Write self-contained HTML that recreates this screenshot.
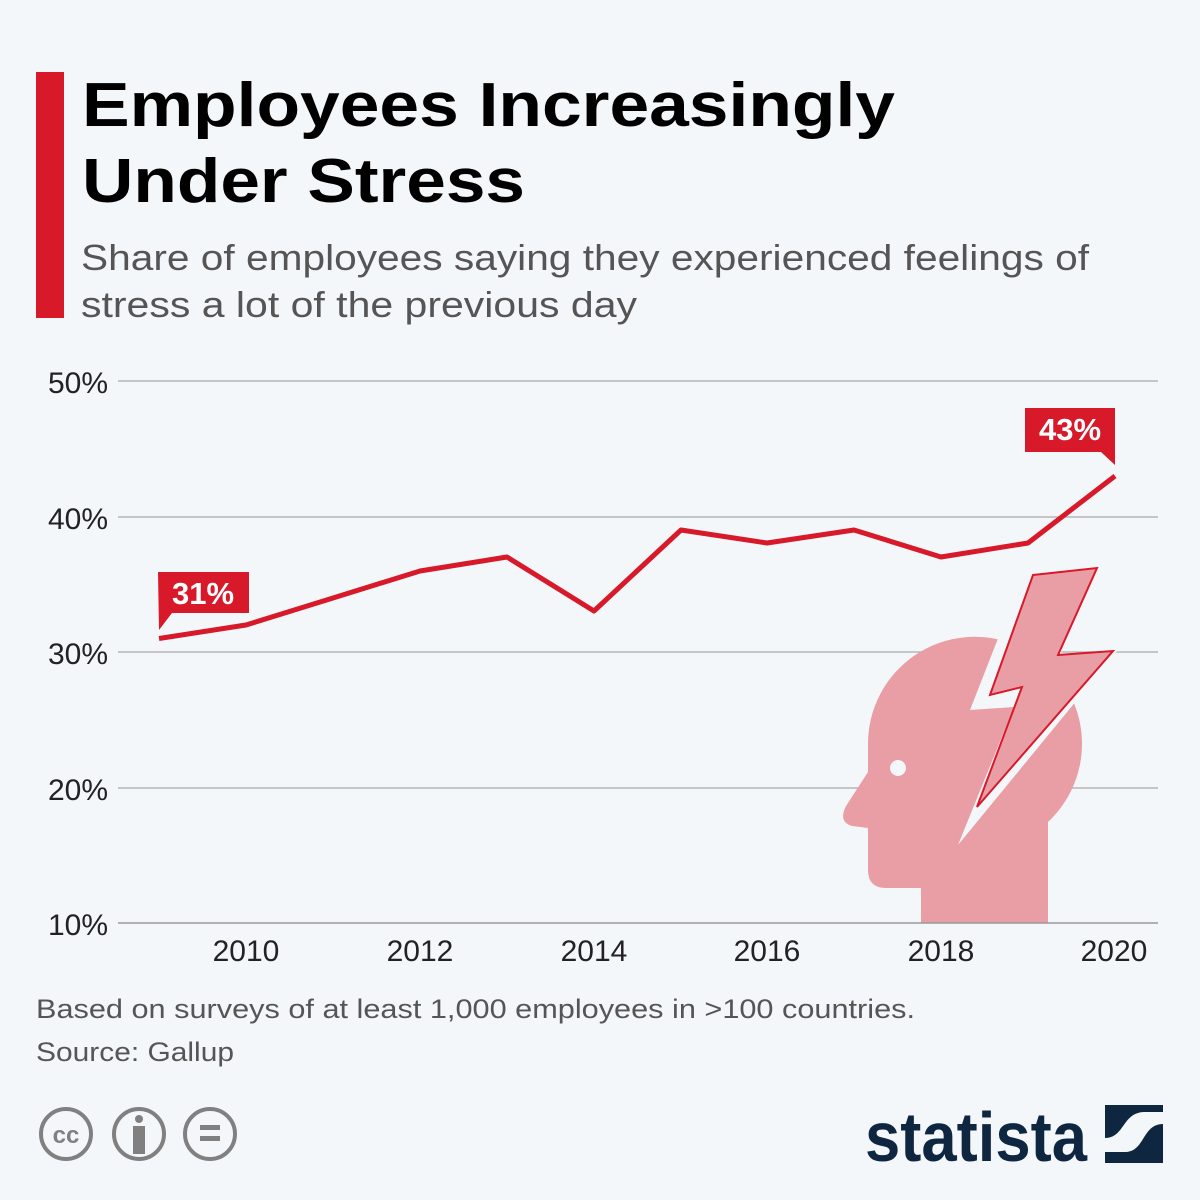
<!DOCTYPE html>
<html><head><meta charset="utf-8"><style>
body{margin:0;background:#f4f7fa;}
svg{display:block}
text{font-family:"Liberation Sans",sans-serif}
</style></head><body>
<svg width="1200" height="1200" viewBox="0 0 1200 1200">
<rect width="1200" height="1200" fill="#f4f7fa"/>
<rect x="36" y="72" width="28" height="246" fill="#d7192a"/>
<text x="82" y="126" font-size="62" font-weight="bold" fill="#000" textLength="813" lengthAdjust="spacingAndGlyphs">Employees Increasingly</text>
<text x="82" y="202" font-size="62" font-weight="bold" fill="#000" textLength="443" lengthAdjust="spacingAndGlyphs">Under Stress</text>
<text x="81" y="270" font-size="36" fill="#555" textLength="1008" lengthAdjust="spacingAndGlyphs">Share of employees saying they experienced feelings of</text>
<text x="81" y="317" font-size="36" fill="#555" textLength="556" lengthAdjust="spacingAndGlyphs">stress a lot of the previous day</text>
<g stroke="#b5b5b5" stroke-width="1.5">
<line x1="118" y1="381" x2="1158" y2="381"/>
<line x1="118" y1="517" x2="1158" y2="517"/>
<line x1="118" y1="652" x2="1158" y2="652"/>
<line x1="118" y1="788" x2="1158" y2="788"/>
</g>
<g fill="#e89ea4">
<path d="M921,923 L921,888 L886,888 Q868,888 868,870 L868,828 L852,826 Q838,822 846,806 L868,772 L868,745 A107,107 0 1 1 1048,822 L1048,923 Z"/>
</g>
<circle cx="898" cy="768" r="8" fill="#f4f7fa"/>
<polygon points="1026,567 1100,565 1060,655 1118,650 958,845 1014,707 970,710" fill="#f4f7fa"/>
<polygon points="1033,575 1097,568 1058,655 1113,651 977,807 1022,687 990,695" fill="#e89ea4" stroke="#d7192a" stroke-width="2"/>
<line x1="118" y1="923" x2="1158" y2="923" stroke="#999" stroke-width="1.5"/>
<g font-size="30" fill="#222">
<text x="108" y="393" text-anchor="end">50%</text>
<text x="108" y="529" text-anchor="end">40%</text>
<text x="108" y="664" text-anchor="end">30%</text>
<text x="108" y="800" text-anchor="end">20%</text>
<text x="108" y="935" text-anchor="end">10%</text>
<g text-anchor="middle">
<text x="246" y="961">2010</text><text x="420" y="961">2012</text><text x="594" y="961">2014</text>
<text x="767" y="961">2016</text><text x="941" y="961">2018</text><text x="1114" y="961">2020</text>
</g></g>
<polyline fill="none" stroke="#d7192a" stroke-width="5" stroke-linejoin="round" points="159,638.5 246,625 333,598 420,571 507,557 594,611 681,530 767,543 854,530 941,557 1028,543 1115,476"/>
<path d="M158,572 H249 V613 H172 L159,630 Z" fill="#d7192a"/>
<text x="203" y="604" font-size="31" font-weight="bold" fill="#fff" text-anchor="middle">31%</text>
<path d="M1025,408 H1115 V465 L1101,452 H1025 Z" fill="#d7192a"/>
<text x="1070" y="440" font-size="31" font-weight="bold" fill="#fff" text-anchor="middle">43%</text>
<text x="36" y="1018" font-size="27" fill="#555" textLength="879" lengthAdjust="spacingAndGlyphs">Based on surveys of at least 1,000 employees in &gt;100 countries.</text>
<text x="36" y="1061" font-size="27" fill="#555" textLength="198" lengthAdjust="spacingAndGlyphs">Source: Gallup</text>
<g fill="none" stroke="#808080" stroke-width="4">
<circle cx="66" cy="1134" r="25"/><circle cx="139" cy="1134" r="25"/><circle cx="210" cy="1134" r="25"/>
</g>
<text x="66" y="1143" font-size="24" font-weight="bold" fill="#808080" text-anchor="middle">cc</text>
<circle cx="139" cy="1119" r="4" fill="#808080"/>
<rect x="133" y="1126" width="12" height="28" fill="#808080"/>
<rect x="200" y="1125" width="20" height="5" fill="#808080"/>
<rect x="200" y="1136" width="20" height="5" fill="#808080"/>
<text x="865" y="1161" font-size="70" font-weight="bold" fill="#0f2640" textLength="222" lengthAdjust="spacingAndGlyphs">statista</text>
<rect x="1105" y="1105" width="58" height="58" fill="#0f2640"/>
<path d="M1105,1138 C1125,1138 1122,1112 1145,1112 L1163,1112 L1163,1124 C1142,1124 1145,1152 1125,1152 L1105,1152 Z" fill="#f4f7fa"/>
</svg>
</body></html>
